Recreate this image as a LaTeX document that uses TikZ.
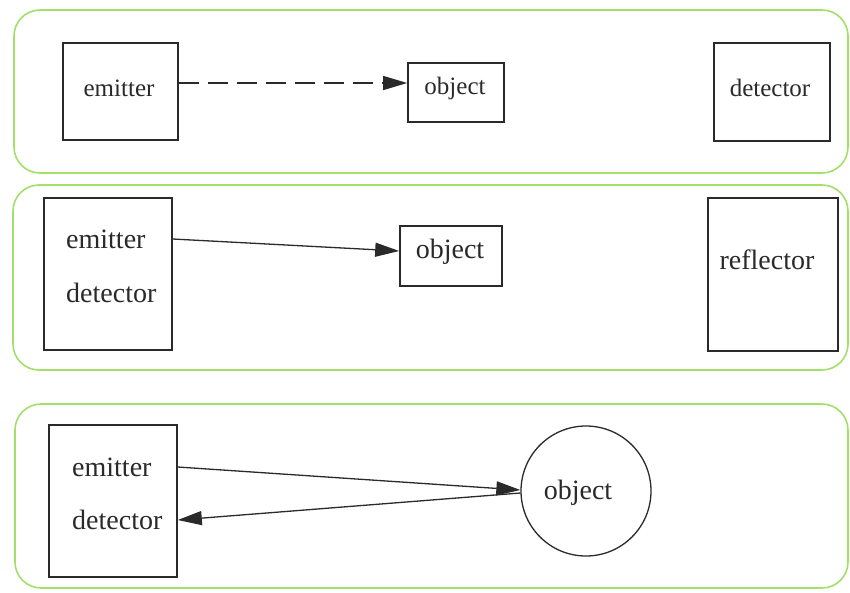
\documentclass[tikz,border=0pt]{standalone}
\usepackage{fontspec}
\setmainfont{Liberation Serif}
\usetikzlibrary{arrows.meta}
\definecolor{panelgreen}{HTML}{A3E06A}
\definecolor{ink}{HTML}{2A2A2A}
\tikzset{
  panel/.style={draw=panelgreen, line width=1.6pt, rounded corners=26pt},
  box/.style={draw=ink, line width=1.6pt, inner sep=0pt},
  lbl/.style={inner sep=0pt, text=ink},
  small/.style={font=\fontsize{25}{30}\selectfont},
  big/.style={font=\fontsize{28}{34}\selectfont},
  conn/.style={draw=ink, line width=1.3pt, -{Triangle[length=24pt,width=14pt]}}
}
\begin{document}
\begin{tikzpicture}[x=1pt,y=-1pt]
\useasboundingbox (0,0) rectangle (850,592);
\fill[white] (0,0) rectangle (850,592);
% panels
\draw[panel] (14,10) rectangle (848,173);
\draw[panel] (13,185) rectangle (848,370);
\draw[panel] (15,404) rectangle (848,588);
% panel 1
\node[box, minimum width=115pt, minimum height=97pt] (e1) at (120.5,91.5) {};
\node[lbl, small] (e1t) at (119,88) {emitter};
\node[box, minimum width=96pt, minimum height=59pt] (o1) at (456,92.5) {};
\node[lbl, small] (o1t) at (455,88) {object};
\node[box, minimum width=116pt, minimum height=98pt] (d1) at (772,92) {};
\node[lbl, small] (d1t) at (770,88) {detector};
\draw[conn, dash pattern=on 20pt off 9pt] (e1.east |- 0,83) -- (o1.west |- 0,83);
% panel 2
\node[box, minimum width=128pt, minimum height=152pt] (e2) at (108,274) {};
\node[lbl, big, anchor=west] (e2a) at (66,239) {emitter};
\node[lbl, big, anchor=west] (e2b) at (66,293) {detector};
\node[box, minimum width=102pt, minimum height=60pt] (o2) at (451,256) {};
\node[lbl, big] (o2t) at (450,252) {object};
\node[box, minimum width=130pt, minimum height=153pt] (r2) at (773,274.5) {};
\node[lbl, big] (r2t) at (767,260) {reflector};
\draw[conn] (e2.east |- e2a) -- ([yshift=5pt]o2.west);
% panel 3
\node[box, minimum width=128pt, minimum height=152pt] (e3) at (113,501) {};
\node[lbl, big, anchor=west] (e3a) at (72,467) {emitter};
\node[lbl, big, anchor=west] (e3b) at (72,520) {detector};
\node[draw=ink, line width=1.3pt, circle, minimum size=130pt, inner sep=0pt] (c3) at (586,491) {};
\node[lbl, big] (c3t) at (578,493) {object};
\draw[conn] (e3.east |- e3a) -- ([yshift=1pt]c3.west);
\draw[conn] ([yshift=-2pt]c3.west) -- (e3.east |- e3b);
\end{tikzpicture}
\end{document}
